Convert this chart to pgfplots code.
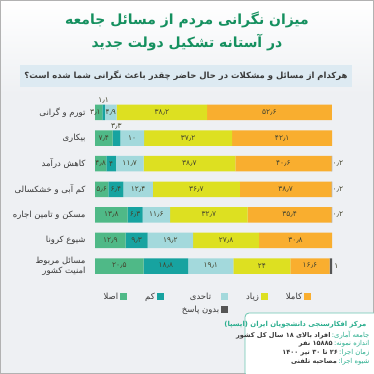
\documentclass[border=0pt]{standalone}
\usepackage{pgfplots}
\pgfplotsset{compat=1.18}
\usepackage{fontspec}
\setmainfont{DejaVu Sans}
\newfontfamily\fa[Script=Arabic]{DejaVu Sans}
\TeXXeTstate=1
\definecolor{bgc}{HTML}{EEF0F3}
\definecolor{subbg}{HTML}{DDEAF2}
\definecolor{titc}{HTML}{15905F}
\definecolor{labc}{HTML}{3A3A3A}
\definecolor{valc}{HTML}{45452F}
\definecolor{cG}{HTML}{4FB987}
\definecolor{cT}{HTML}{17A3A0}
\definecolor{cL}{HTML}{A3D9DC}
\definecolor{cY}{HTML}{DDE021}
\definecolor{cO}{HTML}{F9AE2F}
\definecolor{cD}{HTML}{555555}
\definecolor{tl}{HTML}{2AAE8E}
\begin{document}
\begin{tikzpicture}[x=1bp,y=1bp]
\useasboundingbox (0,0) rectangle (374,374);
\fill[bgc] (0,0) rectangle (374,374);
\shade[top color=white, bottom color=bgc] (0,374) rectangle (374,280);
\draw[gray!60, line width=1.2bp] (0.6,0.6) rectangle (373.4,373.4);
% title
\node[text=titc, font=\fa\bfseries\fontsize{14}{17}\selectfont] at (187,354) {\beginR میزان نگرانی مردم از مسائل جامعه\endR};
\node[text=titc, font=\fa\bfseries\fontsize{14}{17}\selectfont] at (187,331) {\beginR در آستانه تشکیل دولت جدید\endR};
% subtitle
\fill[subbg] (20,287) rectangle (352,309);
\node[text=labc, font=\fa\bfseries\fontsize{8.5}{10}\selectfont] at (186,298) {\beginR هرکدام از مسائل و مشکلات در حال حاضر چقدر باعث نگرانی شما شده است؟\endR};
% bars
\begin{axis}[at={(95bp,95.2bp)}, anchor=south west, scale only axis,
  width=237bp, height=179.1bp, xmin=0, xmax=100, ymin=0.5, ymax=7.5,
  y dir=reverse, xbar stacked, bar width=15.5bp,
  axis line style={draw=none}, xtick=\empty, ytick={1,...,7},
  major tick length=0pt, clip=false,
  yticklabels={{\fa\beginR تورم و گرانی\endR},{\fa\beginR بیکاری\endR},{\fa\beginR کاهش درآمد\endR},{\fa\beginR کم آبی و خشکسالی\endR},{\fa\beginR مسکن و تامین اجاره\endR},{\fa\beginR شیوع کرونا\endR},{\fa\beginR مسائل مربوط\endR\\\fa\beginR امنیت کشور\endR}},
  yticklabel style={font=\fa\fontsize{8.5}{10}\selectfont, text=labc, align=right, xshift=-6bp},
  legend plot pos=right,
  legend image code/.code={\fill[#1] (0bp,-3.5bp) rectangle (7bp,3.5bp);},
  legend style={at={(0.47,-0.055)}, anchor=north, draw=none, fill=none,
    legend columns=5, font=\fa\fontsize{8.5}{10}\selectfont, text=labc,
    /tikz/every even column/.append style={column sep=16bp},
    row sep=1bp},
]
\addplot[fill=cG, draw=none] coordinates {(3.1,1) (7.4,2) (4.8,3) (5.6,4) (13.8,5) (12.9,6) (20.5,7)};
\addlegendentry{\fa\beginR اصلا\endR}
\addplot[fill=cT, draw=none] coordinates {(1.1,1) (3.3,2) (4,3) (6.4,4) (6.3,5) (9.3,6) (18.8,7)};
\addlegendentry{\fa\beginR کم\endR}
\addplot[fill=cL, draw=none] coordinates {(4.9,1) (10,2) (11.7,3) (12.4,4) (11.6,5) (19.2,6) (19.1,7)};
\addlegendentry{\fa\beginR تاحدی\endR}
\addplot[fill=cY, draw=none] coordinates {(38.2,1) (37.2,2) (38.7,3) (36.7,4) (32.7,5) (27.8,6) (24,7)};
\addlegendentry{\fa\beginR زیاد\endR}
\addplot[fill=cO, draw=none] coordinates {(52.6,1) (42.1,2) (40.6,3) (38.7,4) (35.4,5) (30.8,6) (16.6,7)};
\addlegendentry{\fa\beginR کاملا\endR}
\addlegendimage{empty legend}\addlegendentry{}
\addlegendimage{empty legend}\addlegendentry{}
\addplot[fill=cD, draw=none] coordinates {(0,1) (0,2) (0.2,3) (0.2,4) (0.2,5) (0,6) (1,7)};
\addlegendentry{\fa\beginR بدون پاسخ\endR}
\end{axis}
% value labels
\begin{axis}[at={(95bp,95.2bp)}, anchor=south west, scale only axis,
  width=237bp, height=179.1bp, xmin=0, xmax=100, ymin=0.5, ymax=7.5,
  y dir=reverse, hide axis, clip=false]
\addplot[draw=none, mark=none, point meta=explicit symbolic,
  nodes near coords={\fa\pgfplotspointmeta},
  nodes near coords style={anchor=center, font=\fa\fontsize{7.5}{9}\selectfont, text=valc}]
coordinates {
(0.2,1)[۳٫۱] (3.65,0.52)[۱٫۱] (6.65,1)[۴٫۹] (28.2,1)[۳۸٫۲] (73.6,1)[۵۲٫۶]
(3.7,2)[۷٫۴] (9.05,1.56)[۳٫۳] (15.7,2)[۱۰] (39.3,2)[۳۷٫۲] (79.0,2)[۴۲٫۱]
(2.4,3)[۴٫۸] (6.8,3)[۴] (14.65,3)[۱۱٫۷] (39.85,3)[۳۸٫۷] (79.5,3)[۴۰٫۶] (102.5,3)[۰٫۲]
(2.8,4)[۵٫۶] (8.8,4)[۶٫۴] (18.2,4)[۱۲٫۴] (42.75,4)[۳۶٫۷] (80.45,4)[۳۸٫۷] (102.5,4)[۰٫۲]
(6.9,5)[۱۳٫۸] (16.95,5)[۶٫۳] (25.9,5)[۱۱٫۶] (48.05,5)[۳۲٫۷] (82.1,5)[۳۵٫۴] (102.5,5)[۰٫۲]
(6.45,6)[۱۲٫۹] (17.55,6)[۹٫۳] (31.8,6)[۱۹٫۲] (55.3,6)[۲۷٫۸] (84.6,6)[۳۰٫۸]
(10.25,7)[۲۰٫۵] (29.9,7)[۱۸٫۸] (48.85,7)[۱۹٫۱] (70.4,7)[۲۴] (90.7,7)[۱۶٫۶] (101.8,7)[۱]
};
\end{axis}
% footer box
\draw[tl!70, fill=white, line width=0.8bp, rounded corners=4bp] (245,-3) rectangle (378,61);
\node[anchor=east, text=tl, font=\fa\bfseries\fontsize{6.9}{8}\selectfont] at (370,49) {\beginR مرکز افکارسنجی دانشجویان ایران (ایسپا)\endR};
\node[anchor=east, text=tl, font=\fa\fontsize{6.8}{8}\selectfont, inner xsep=0.5bp] (a2) at (370,38.5) {\beginR جامعه آماری:\endR};
\node[anchor=east, text=labc, font=\fa\bfseries\fontsize{6.6}{8}\selectfont, inner xsep=0.5bp] at (a2.west) {\beginR افراد بالای ۱۸ سال کل کشور\endR};
\node[anchor=east, text=tl, font=\fa\fontsize{6.8}{8}\selectfont, inner xsep=0.5bp] (a3) at (370,30) {\beginR اندازه نمونه:\endR};
\node[anchor=east, text=labc, font=\fa\bfseries\fontsize{6.6}{8}\selectfont, inner xsep=0.5bp] at (a3.west) {\beginR ۱۵۸۸۵ نفر\endR};
\node[anchor=east, text=tl, font=\fa\fontsize{6.8}{8}\selectfont, inner xsep=0.5bp] (a4) at (370,21.5) {\beginR زمان اجرا:\endR};
\node[anchor=east, text=labc, font=\fa\bfseries\fontsize{6.6}{8}\selectfont, inner xsep=0.5bp] at (a4.west) {\beginR ۲۶ تا ۳۰ تیر ۱۴۰۰\endR};
\node[anchor=east, text=tl, font=\fa\fontsize{6.8}{8}\selectfont, inner xsep=0.5bp] (a5) at (370,12) {\beginR شیوه اجرا:\endR};
\node[anchor=east, text=labc, font=\fa\bfseries\fontsize{6.6}{8}\selectfont, inner xsep=0.5bp] at (a5.west) {\beginR مصاحبه تلفنی\endR};
\end{tikzpicture}
\end{document}
